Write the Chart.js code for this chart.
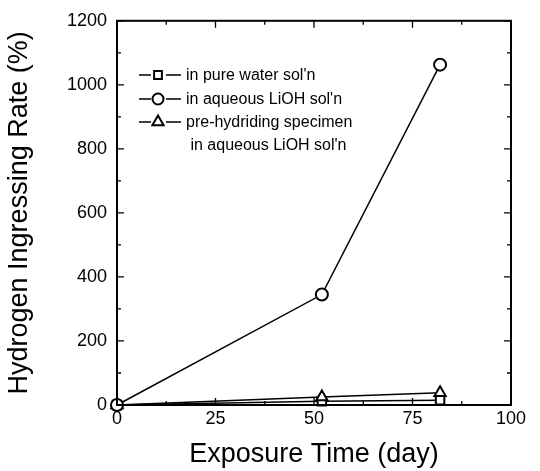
<!DOCTYPE html>
<html>
<head>
<meta charset="utf-8">
<script src="https://cdn.jsdelivr.net/npm/chart.js@4/dist/chart.umd.min.js"></script>
<style>
  html, body { margin: 0; padding: 0; background: #fff; }
  #wrap { width: 540px; height: 471px; }
</style>
</head>
<body>
<div id="wrap"><canvas id="hydrogenChart" width="540" height="471"></canvas></div>
<script>
/*
DATA
*/
const exposureDays = [0, 52, 82];
const pureWater = [0, 12, 15];
const aqueousLiOH = [0, 345, 1063];
const preHydriding = [0, 25, 38];
const seriesLabels = [
  'in pure water sol\'n',
  'in aqueous LiOH sol\'n',
  ['pre-hydriding specimen', ' in aqueous LiOH sol\'n']
];
const xTicks = [0, 25, 50, 75, 100];
const yTicks = [0, 200, 400, 600, 800, 1000, 1200];

const FONT = '"Liberation Sans", Arial, Helvetica, sans-serif';

function toPoints(ys)
{
  return exposureDays.map((d, i) => ({ x: d, y: ys[i] }));
}

function makeSet(label, ys, style, order)
{
  return {
    label: label,
    data: toPoints(ys),
    borderColor: '#000',
    backgroundColor: '#fff',
    borderWidth: 1.5,
    pointStyle: style,
    pointRadius: style === 'triangle' ? 6.5 : 6,
    pointBorderWidth: 2,
    pointBackgroundColor: '#fff',
    pointBorderColor: '#000',
    tension: 0,
    order: order
  };
}

// frame plus inward ticks on all four sides
const framePlugin = {
  id: 'frame',
  afterDatasetsDraw(chart) {
    const { ctx, chartArea: a, scales } = chart;
    ctx.save();
    ctx.strokeStyle = '#000';
    ctx.lineWidth = 2;
    ctx.strokeRect(a.left, a.top, a.right - a.left, a.bottom - a.top);
    ctx.lineWidth = 1.3;
    ctx.beginPath();
    for (let v = 0; v <= 100; v += 12.5) {
      const px = scales.x.getPixelForValue(v);
      const len = (v % 25 === 0) ? 7 : 4;
      ctx.moveTo(px, a.bottom); ctx.lineTo(px, a.bottom - len);
      ctx.moveTo(px, a.top); ctx.lineTo(px, a.top + len);
    }
    for (let v = 0; v <= 1200; v += 100) {
      const py = scales.y.getPixelForValue(v);
      const len = (v % 200 === 0) ? 7 : 4;
      ctx.moveTo(a.left, py); ctx.lineTo(a.left + len, py);
      ctx.moveTo(a.right, py); ctx.lineTo(a.right - len, py);
    }
    ctx.stroke();
    ctx.restore();
  }
};

// legend inside the plot, line-marker-line like the original
const insideLegend = {
  id: 'insideLegend',
  afterDraw(chart) {
    const { ctx } = chart;
    const rows = [75, 99, 122];
    ctx.save();
    ctx.font = '16px ' + FONT;
    ctx.textBaseline = 'middle';
    chart.data.datasets.forEach((ds, i) => {
      const y = rows[i];
      ctx.strokeStyle = '#000';
      ctx.lineWidth = 1.5;
      ctx.beginPath();
      ctx.moveTo(139, y); ctx.lineTo(151, y);
      ctx.moveTo(166, y); ctx.lineTo(181, y);
      ctx.stroke();
      ctx.fillStyle = '#fff';
      ctx.lineWidth = 2;
      Chart.helpers.drawPoint(ctx, {
        pointStyle: ds.pointStyle,
        radius: ds.pointStyle === 'triangle' ? 6.5 : 5.5,
        rotation: 0,
        borderWidth: 2
      }, 158, y);
      ctx.fillStyle = '#000';
      const lines = Array.isArray(ds.label) ? ds.label : [ds.label];
      lines.forEach((t, k) => ctx.fillText(t, 186, y + 1 + k * 23));
    });
    ctx.restore();
  }
};

const hydrogenData = {
  datasets: [
    makeSet(seriesLabels[0], pureWater, 'rect', 3),
    makeSet(seriesLabels[1], aqueousLiOH, 'circle', 1),
    makeSet(seriesLabels[2], preHydriding, 'triangle', 2)
  ]
};

const hydrogenConfig = {
  type: 'line',
  data: hydrogenData,
  options: {
    responsive: false,
    animation: false,
    clip: false,
    layout: { padding: { top: 19, right: 29, left: 0, bottom: 0 } },
    plugins: {
      legend: { display: false },
      tooltip: { enabled: false }
    },
    scales: {
      x: {
        type: 'linear',
        min: 0,
        max: 100,
        afterBuildTicks: (s) => { s.ticks = xTicks.map(v => ({ value: v })); },
        afterFit: (s) => { s.height = 66; },
        grid: { display: false, drawTicks: false },
        border: { display: false },
        ticks: {
          color: '#000',
          font: { family: FONT, size: 18 },
          padding: 3,
          maxRotation: 0,
          callback: (v) => String(v)
        },
        title: {
          display: true,
          text: 'Exposure Time (day)',
          color: '#000',
          font: { family: FONT, size: 27 },
          padding: { top: 4, bottom: 0 }
        }
      },
      y: {
        type: 'linear',
        min: 0,
        max: 1200,
        afterBuildTicks: (s) => { s.ticks = yTicks.map(v => ({ value: v })); },
        afterFit: (s) => { s.width = 117; },
        grid: { display: false, drawTicks: false },
        border: { display: false },
        ticks: {
          color: '#000',
          font: { family: FONT, size: 18 },
          padding: 10,
          callback: (v) => String(v)
        },
        title: {
          display: true,
          text: 'Hydrogen Ingressing Rate (%)',
          color: '#000',
          font: { family: FONT, size: 27 },
          padding: { top: 3, bottom: 4 }
        }
      }
    }
  },
  plugins: [framePlugin, insideLegend]
};

const hydrogenChart = new Chart(
    document.getElementById('hydrogenChart'),
    hydrogenConfig
);
</script>
</body>
</html>
